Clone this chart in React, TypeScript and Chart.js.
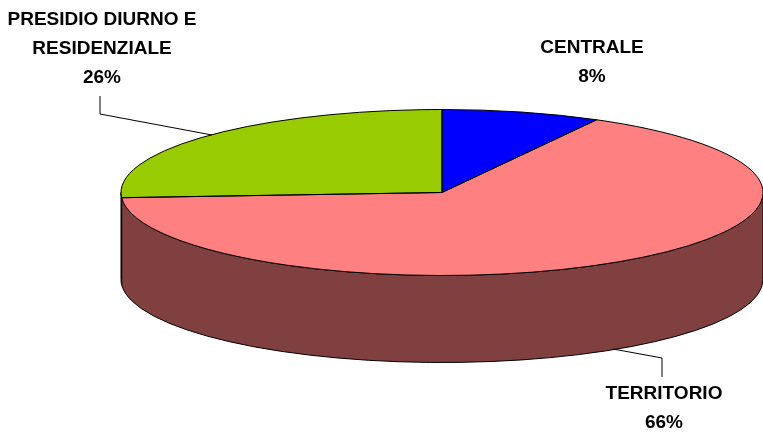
import React, { useEffect, useRef } from "react";
import { Chart, registerables } from "chart.js";

Chart.register(...registerables);

const categories = ["CENTRALE", "TERRITORIO", "PRESIDIO DIURNO E RESIDENZIALE"];
const values = [8, 66, 26];
const topColors = ["#0000FF", "#FF8080", "#99CC00"];
const wallColors = ["#000080", "#804040", "#4D6600"];

const labelLines = [["CENTRALE"], ["TERRITORIO"], ["PRESIDIO DIURNO E", "RESIDENZIALE"]];
const labelCenters = [
  { x: 592, y: 48 },
  { x: 664, y: 394 },
  { x: 102, y: 20 },
];
const lineHeight = 29;
const leaders = [
  [],
  [[613, 349], [662, 358], [662, 377]],
  [[100, 96], [100, 114], [212, 135]],
];

const CX = 442;
const CY = 192.5;
const RX = 321;
const RY = 83;
const DEPTH = 87;

const pie3d = {
  id: "pie3d",
  beforeDatasetsDraw(chart: any) {
    const ctx = chart.ctx;
    const arcs = chart.getDatasetMeta(0).data;
    ctx.save();
    ctx.lineWidth = 1;
    ctx.strokeStyle = "#000";
    arcs.forEach((arc: any, i: number) => {
      const a = Math.max(arc.startAngle, 0);
      const b = Math.min(arc.endAngle, Math.PI);
      if (b <= a) return;
      ctx.beginPath();
      ctx.ellipse(CX, CY, RX, RY, 0, a, b, false);
      ctx.ellipse(CX, CY + DEPTH, RX, RY, 0, b, a, true);
      ctx.closePath();
      ctx.fillStyle = wallColors[i];
      ctx.fill();
      ctx.stroke();
    });
    ctx.restore();
    const first = arcs[0];
    ctx.save();
    ctx.translate(CX, CY);
    ctx.scale(RX / first.outerRadius, RY / first.outerRadius);
    ctx.translate(-first.x, -first.y);
  },
  afterDatasetsDraw(chart: any) {
    const ctx = chart.ctx;
    ctx.restore();
    const arcs = chart.getDatasetMeta(0).data;
    ctx.save();
    ctx.lineWidth = 1;
    ctx.strokeStyle = "#000";
    arcs.forEach((arc: any) => {
      ctx.beginPath();
      ctx.moveTo(CX, CY);
      ctx.ellipse(CX, CY, RX, RY, 0, arc.startAngle, arc.endAngle, false);
      ctx.closePath();
      ctx.stroke();
    });
    leaders.forEach((pts) => {
      if (!pts.length) return;
      ctx.beginPath();
      pts.forEach(([x, y], k) => (k ? ctx.lineTo(x, y) : ctx.moveTo(x, y)));
      ctx.stroke();
    });
    ctx.fillStyle = "#000";
    ctx.font = 'bold 19px "Liberation Sans", Arial, sans-serif';
    ctx.textAlign = "center";
    ctx.textBaseline = "middle";
    const total = values.reduce((s, v) => s + v, 0);
    labelLines.forEach((lines, i) => {
      const all = [...lines, `${Math.round((values[i] / total) * 100)}%`];
      all.forEach((t, k) => {
        ctx.fillText(t, labelCenters[i].x, labelCenters[i].y + k * lineHeight);
      });
    });
    ctx.restore();
  },
};

export default function App() {
  const ref = useRef<HTMLCanvasElement | null>(null);
  useEffect(() => {
    document.body.style.margin = "0";
    const chart = new Chart(ref.current as HTMLCanvasElement, {
      type: "pie",
      data: {
        labels: categories,
        datasets: [
          {
            data: values,
            backgroundColor: topColors,
            borderWidth: 0,
            clip: false,
          } as any,
        ],
      },
      options: {
        responsive: false,
        animation: false,
        layout: { padding: 0 },
        plugins: { legend: { display: false }, tooltip: { enabled: false } },
      },
      plugins: [pie3d],
    });
    return () => chart.destroy();
  }, []);
  return <canvas ref={ref} width={763} height={432} style={{ display: "block" }} />;
}
